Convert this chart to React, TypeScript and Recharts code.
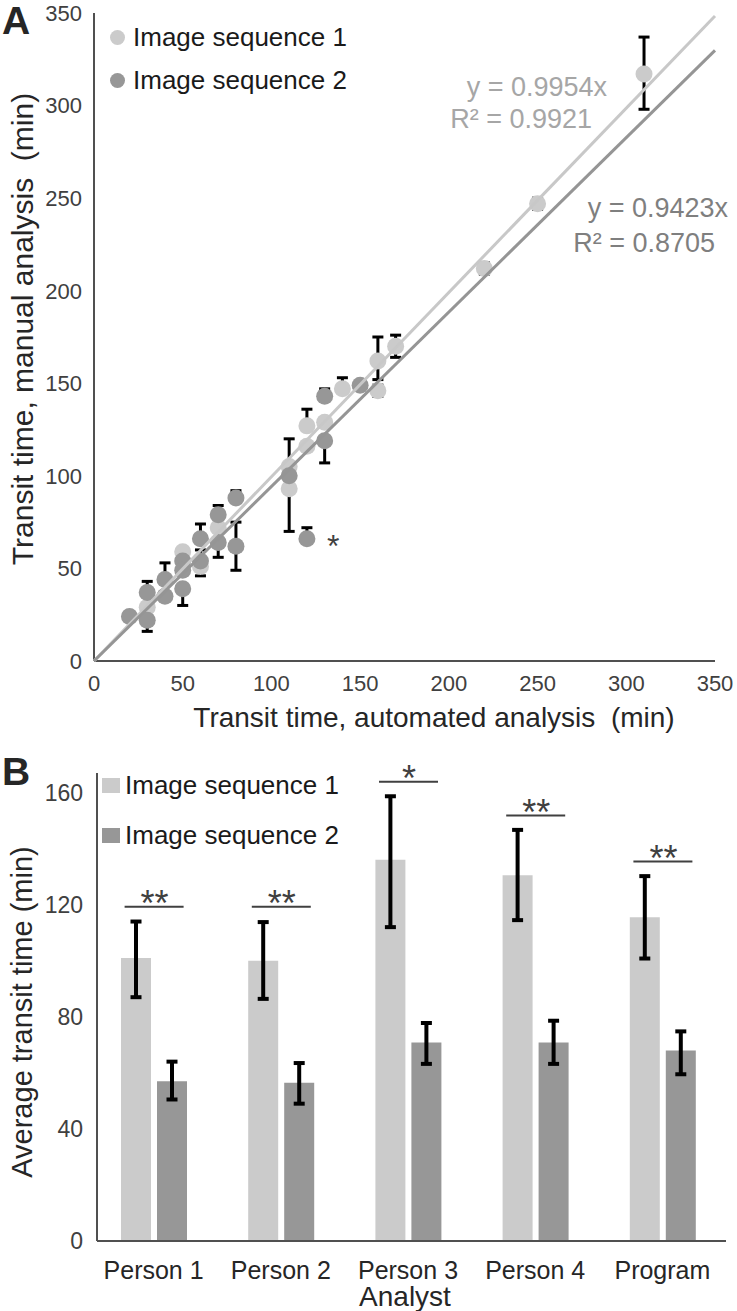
import React from "react";
import {
  ScatterChart,
  Scatter,
  ComposedChart,
  Bar,
  Line,
  XAxis,
  YAxis,
  ErrorBar,
  Legend,
} from "recharts";

// ---- Panel A: manual vs automated transit time ----
const ticksA = [0, 50, 100, 150, 200, 250, 300, 350];

const seq1X = [30, 50, 60, 70, 110, 110, 120, 120, 130, 140, 160, 160, 170, 220, 250, 310];
const seq1Y = [29, 59, 51, 72, 105, 93, 127, 116, 129, 147, 146, 162, 170, 212, 247, 317];
const seq1Lo = [0, 0, 5, 0, 0, 23, 0, 0, 0, 0, 3, 10, 6, 3, 3, 19];
const seq1Hi = [0, 0, 9, 0, 0, 0, 9, 0, 0, 6, 3, 13, 6, 3, 3, 20];

const seq2X = [20, 30, 30, 40, 40, 50, 50, 50, 60, 60, 70, 70, 80, 80, 110, 120, 130, 130, 150];
const seq2Y = [24, 22, 37, 44, 35, 54, 49, 39, 66, 54, 79, 64, 88, 62, 100, 66, 119, 143, 149];
const seq2Lo = [0, 6, 0, 0, 0, 0, 0, 9, 0, 0, 0, 8, 0, 13, 0, 0, 12, 0, 0];
const seq2Hi = [0, 0, 6, 9, 0, 0, 0, 0, 8, 0, 5, 0, 4, 13, 20, 6, 0, 4, 0];
const seq2Note = ["", "", "", "", "", "", "", "", "", "", "", "", "", "", "", "*", "", "", ""];

// trendlines through the origin (Excel fit)
const trendX = [0, 350];
const slope1 = 0.9954;
const slope2 = 0.9423;

// ---- Panel B: average transit time per analyst ----
const analysts = ["Person 1", "Person 2", "Person 3", "Person 4", "Program"];
const avg1 = [101, 100, 136, 130.5, 115.5];
const err1Lo = [14, 13.6, 24, 16, 14.7];
const err1Hi = [13, 13.8, 22.7, 16.2, 14.7];
const avg2 = [57, 56.5, 70.8, 70.8, 68];
const err2Lo = [6.5, 7.5, 7.6, 7.6, 8.5];
const err2Hi = [7, 7, 7, 7.8, 6.8];
const sigLevel = [119.3, 119.3, 163.9, 151.8, 135.4];
const sigStars = ["**", "**", "*", "**", "**"];
const ticksB = [0, 40, 80, 120, 160];

const LIGHT = "#cbcbcb";
const DARK = "#979797";
const AXIS = "#505050";
const FONT = "'Liberation Sans', Arial, sans-serif";

const seq1 = seq1X.map((x, i) => ({ x, y: seq1Y[i], err: [seq1Lo[i], seq1Hi[i]] }));
const seq2 = seq2X.map((x, i) => ({ x, y: seq2Y[i], err: [seq2Lo[i], seq2Hi[i]], note: seq2Note[i] }));
const trend1 = trendX.map((x) => ({ x, y: x * slope1 }));
const trend2 = trendX.map((x) => ({ x, y: x * slope2 }));

const barRows = analysts.map((analyst, i) => ({
  analyst,
  seq1: avg1[i],
  seq2: avg2[i],
  err1: [err1Lo[i], err1Hi[i]],
  err2: [err2Lo[i], err2Hi[i]],
  sig: sigLevel[i],
  stars: sigStars[i],
}));

const Dot = (color: string) => (props: any) => {
  const { cx, cy, payload } = props;
  return (
    <g>
      <circle cx={cx} cy={cy} r={8.5} fill={color} />
      {payload && payload.note ? (
        <text x={cx + 20} y={cy + 18} fontSize={32} fill="#404040">
          {payload.note}
        </text>
      ) : null}
    </g>
  );
};

const NoDot = () => <g />;

// significance bracket drawn at each category centre
const SigMark = (props: any) => {
  const { cx, cy, payload, index } = props;
  const stars = payload && payload.stars ? payload.stars : "";
  return (
    <g key={`sig-${index}`}>
      <line x1={cx - 29} x2={cx + 30} y1={cy} y2={cy} stroke="#404040" strokeWidth={2} />
      <text x={cx + 1} y={cy + 9} textAnchor="middle" fontSize={36} fill="#404040">
        {stars}
      </text>
    </g>
  );
};

const shown = (payload: any) => (payload || []).filter((e: any) => e.type !== "none" && e.value);

const LegendA = ({ payload }: any) => (
  <div>
    {shown(payload).map((e: any) => (
      <div key={e.value} style={{ display: "flex", alignItems: "center", height: 43 }}>
        <span style={{ width: 15, height: 15, borderRadius: "50%", background: e.color, marginRight: 8 }} />
        <span style={{ fontSize: 26, color: "#1a1a1a", whiteSpace: "nowrap" }}>{e.value}</span>
      </div>
    ))}
  </div>
);

const LegendB = ({ payload }: any) => (
  <div>
    {shown(payload).map((e: any) => (
      <div key={e.value} style={{ display: "flex", alignItems: "center", height: 50 }}>
        <span style={{ width: 18, height: 15, background: e.color, marginRight: 5 }} />
        <span style={{ fontSize: 26, color: "#1a1a1a", whiteSpace: "nowrap" }}>{e.value}</span>
      </div>
    ))}
  </div>
);

export default function App() {
  return (
    <div style={{ fontFamily: FONT, width: 737, background: "#fff" }}>
      <style>{"body{margin:0}"}</style>
      <ScatterChart width={737} height={740} margin={{ top: 13, right: 22, bottom: 9, left: 0 }}>
        <XAxis
          type="number"
          dataKey="x"
          domain={[0, 350]}
          ticks={ticksA}
          height={70}
          tickSize={0}
          tickMargin={14}
          tickLine={false}
          axisLine={{ stroke: AXIS, strokeWidth: 2 }}
          tick={{ fontSize: 22, fill: "#404040" }}
        />
        <YAxis
          type="number"
          dataKey="y"
          domain={[0, 350]}
          ticks={ticksA}
          width={94}
          tickSize={0}
          tickMargin={12}
          tickLine={false}
          axisLine={{ stroke: AXIS, strokeWidth: 2 }}
          tick={{ fontSize: 22, fill: "#404040" }}
        />
        <Legend
          layout="vertical"
          align="center"
          verticalAlign="middle"
          content={LegendA}
          wrapperStyle={{ top: 16, left: 110, width: "auto" }}
        />
        <Scatter name="Image sequence 1" data={seq1} fill={LIGHT} shape={Dot(LIGHT)} isAnimationActive={false}>
          <ErrorBar dataKey="err" direction="y" width={5.5} stroke="#000" strokeWidth={3} />
        </Scatter>
        <Scatter name="Image sequence 2" data={seq2} fill={DARK} shape={Dot(DARK)} isAnimationActive={false}>
          <ErrorBar dataKey="err" direction="y" width={5.5} stroke="#000" strokeWidth={3} />
        </Scatter>
        <Scatter
          data={trend1}
          line={{ stroke: "#c8c8c8", strokeWidth: 3 }}
          shape={NoDot}
          legendType="none"
          isAnimationActive={false}
        />
        <Scatter
          data={trend2}
          line={{ stroke: "#959595", strokeWidth: 3 }}
          shape={NoDot}
          legendType="none"
          isAnimationActive={false}
        />
        <text x={2} y={34} fontSize={39} fontWeight="bold" fill="#262626">A</text>
        <text x={607} y={96} textAnchor="end" fontSize={27} fill="#a6a6a6">y = 0.9954x</text>
        <text x={592} y={128} textAnchor="end" fontSize={27} fill="#a6a6a6">R² = 0.9921</text>
        <text x={728} y={217} textAnchor="end" fontSize={27} fill="#7f7f7f">y = 0.9423x</text>
        <text x={715} y={252} textAnchor="end" fontSize={27} fill="#7f7f7f">R² = 0.8705</text>
        <text x={434} y={727} textAnchor="middle" fontSize={28} fill="#262626">
          {"Transit time, automated analysis\u00a0 (min)"}
        </text>
        <text transform="translate(33,329) rotate(-90)" textAnchor="middle" fontSize={30} fill="#262626">
          {"Transit time, manual analysis\u00a0 (min)"}
        </text>
      </ScatterChart>

      <ComposedChart
        width={737}
        height={571}
        data={barRows}
        margin={{ top: 33, right: 11, bottom: 20, left: 0 }}
        barGap={6}
      >
        <XAxis
          dataKey="analyst"
          padding={{ left: -7, right: 0 }}
          height={50}
          tickSize={0}
          tickMargin={20}
          tickLine={false}
          axisLine={{ stroke: AXIS, strokeWidth: 2 }}
          tick={{ fontSize: 25, fill: "#262626" }}
        />
        <YAxis
          domain={[0, 167]}
          ticks={ticksB}
          width={97}
          tickSize={0}
          tickMargin={14}
          tickLine={false}
          axisLine={{ stroke: AXIS, strokeWidth: 2 }}
          tick={{ fontSize: 23, fill: "#404040" }}
        />
        <Legend
          layout="vertical"
          align="center"
          verticalAlign="middle"
          content={LegendB}
          wrapperStyle={{ top: 20, left: 102, width: "auto" }}
        />
        <Bar dataKey="seq1" name="Image sequence 1" fill={LIGHT} barSize={30} isAnimationActive={false}>
          <ErrorBar dataKey="err1" width={5.5} stroke="#000" strokeWidth={4} />
        </Bar>
        <Bar dataKey="seq2" name="Image sequence 2" fill={DARK} barSize={30} isAnimationActive={false}>
          <ErrorBar dataKey="err2" width={5.5} stroke="#000" strokeWidth={4} />
        </Bar>
        <Line
          dataKey="sig"
          stroke="none"
          dot={SigMark}
          activeDot={false}
          legendType="none"
          isAnimationActive={false}
        />
        <text x={2} y={45} fontSize={39} fontWeight="bold" fill="#262626">B</text>
        <text x={405} y={566} textAnchor="middle" fontSize={28} fill="#262626">Analyst</text>
        <text transform="translate(32,272) rotate(-90)" textAnchor="middle" fontSize={29} fill="#262626">
          Average transit time (min)
        </text>
      </ComposedChart>
    </div>
  );
}
